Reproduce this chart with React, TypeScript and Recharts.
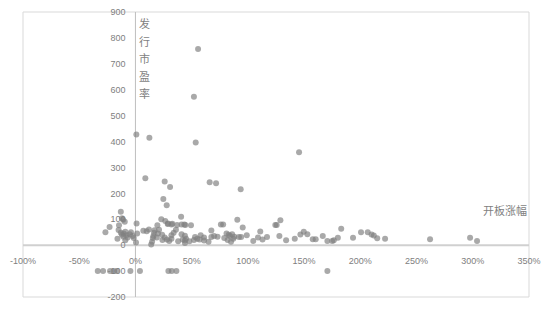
import React from 'react';
import {
  ScatterChart, Scatter, XAxis, YAxis, CartesianGrid, ReferenceLine, ReferenceDot,
} from 'recharts';

// 开板涨幅 (%) of each IPO
const openBoardGain: number[] = [
  55.7, 52, 0.8, 12.4, 53.6, 145.5,
  8.8, 26, 30.8, 66, 71.7, 93.6, 24.8, 27.8,
  -33.5, -28.8, -22.6, -19.3, -16.5, -4.5, 4, 29.3, 32.3, 36.4, 170.7,
  -13, -12, -11, -9.5, -26.7, -23, -16, -14.6, -15, -13, -12, -10.5, -9, -8, -7, -10.7, -9, -5, -4, -2.5, -1.5,
  1, 0.5, 1.5, 7, 10, 12, 14.8, 14, 16, 16.5, 15.5, 17, 19.5, 20,
  23, 26.5, 29, 32, 37, 40.6, 41, 44.4, 49.4, 23.7, 24, 28, 30, 32, 32, 34, 38, 41, 44, 44, 44, 45, 26, 21, 19, 36, 42, 28.7, 32.8, 43.5,
  48, 52, 55, 58, 61, 61, 65, 67.5, 67.5, 70, 73, 76, 78, 81, 83, 84, 82, 85, 87, 88, 90.6, 92, 94, 95.4, 99, 53, 57, 79, 86,
  104.8, 109, 111, 113, 117, 124.4, 125.6, 128.9, 128,
  134, 141.7, 146.7, 149.7, 152.9, 157.7, 160.3, 166.6, 170.7, 175, 176.4, 180, 183, 193.5, 200.6, 206.6, 210, 212, 215, 222, 262, 297.6, 303.8,
];

// 发行市盈率 of each IPO
const issuePE: number[] = [
  757, 573, 427, 415, 396, 359,
  258, 246, 225, 243, 239, 216, 178, 154,
  -100, -100, -100, -100, -100, -100, -100, -100, -100, -100, -100,
  129, 104, 98, 90, 50, 70, 25, 77, 59, 48, 40, 45, 52, 38, 30, 33, 19, 42, 50, 35, 28,
  84, 10, 45, 56, 54, 61, 13, 3, 35, 48, 28, 58, 77, 45,
  100, 93, 84, 80, 78, 110, 80, 78, 77, 40, 20, 22, 16, 25, 38, 48, 15, 42, 36, 18, 8, 25, 30, 60, 30, 60, 22, 82, 83, 80,
  15, 20, 25, 38, 30, 18, 13, 57, 32, 35, 33, 80, 80, 45, 40, 35, 20, 13, 25, 33, 98, 32, 32, 68, 38, 32, 22, 28, 42,
  16, 30, 53, 22, 32, 78, 78, 96, 35,
  19, 25, 41, 52, 42, 23, 23, 35, 16, 16, 19, 29, 63, 29, 50, 50, 41, 37, 27, 25, 23, 29, 16,
];

const xTicks: number[] = [-100, -50, 0, 50, 100, 150, 200, 250, 300, 350];
const yTicks: number[] = [-200, -100, 0, 100, 200, 300, 400, 500, 600, 700, 800, 900];
const xTickLabels: string[] = ['-100%', '-50%', '0%', '50%', '100%', '150%', '200%', '250%', '300%', '350%'];
const yTickLabels: string[] = ['-200', '-100', '0', '100', '200', '300', '400', '500', '600', '700', '800', '900'];
const yTitle = '发行市盈率';
const xTitle = '开板涨幅';

const data = openBoardGain.map((x, i) => ({ x, y: issuePE[i] }));

const tickFont = { fontSize: 9, fill: '#808080', fontFamily: 'Liberation Sans, Arial, sans-serif' };
const titleFont = { fontSize: 11, fill: '#7f7f7f', fontFamily: 'Noto Sans CJK SC, sans-serif' };

const YTitle = (props: any) => {
  const vb = props.viewBox || {};
  const chars = yTitle.split('');
  return (
    <text x={vb.x + 9} y={vb.y + 16} {...titleFont} textAnchor="middle">
      {chars.map((c, i) => (
        <tspan key={i} x={vb.x + 9} dy={i === 0 ? 0 : 17.5}>{c}</tspan>
      ))}
    </text>
  );
};

const XTitle = (props: any) => {
  const vb = props.viewBox || {};
  return (
    <text x={vb.x + vb.width - 2} y={vb.y - 30} {...titleFont} textAnchor="end">
      {xTitle}
    </text>
  );
};

const Dot = (props: any) => (
  <circle cx={props.cx} cy={props.cy} r={3} fill="#808080" fillOpacity={0.68} />
);

export default function App() {
  return (
    <div style={{ position: 'absolute', left: 0, top: 0, width: 550, height: 310, background: '#fff' }}>
      <ScatterChart width={550} height={310} margin={{ top: 12, right: 21, bottom: 13, left: 23 }}>
        <CartesianGrid stroke="#d9d9d9" strokeWidth={1} />
        <XAxis
          type="number"
          dataKey="x"
          domain={[-100, 350]}
          ticks={xTicks}
          tick={false}
          tickLine={false}
          axisLine={false}
          height={0}
          allowDataOverflow
        />
        <YAxis
          type="number"
          dataKey="y"
          domain={[-200, 900]}
          ticks={yTicks}
          tick={false}
          tickLine={false}
          axisLine={false}
          width={0}
          allowDataOverflow
        />
        <ReferenceLine x={0} stroke="#bfbfbf" strokeWidth={1} label={{ content: YTitle }} />
        <ReferenceLine y={0} stroke="#d0d0d0" strokeWidth={2} label={{ content: XTitle }} />
        {xTicks.map((t, i) => (
          <ReferenceDot
            key={'xt' + t}
            x={t}
            y={0}
            r={0}
            stroke="none"
            fill="none"
            label={{ value: xTickLabels[i], position: 'bottom', offset: 12, ...tickFont }}
          />
        ))}
        {yTicks.map((t, i) => (
          <ReferenceDot
            key={'yt' + t}
            x={0}
            y={t}
            r={0}
            stroke="none"
            fill="none"
            label={{ value: yTickLabels[i], position: 'left', offset: 10, ...tickFont }}
          />
        ))}
        <Scatter data={data} shape={Dot} isAnimationActive={false} />
      </ScatterChart>
    </div>
  );
}
